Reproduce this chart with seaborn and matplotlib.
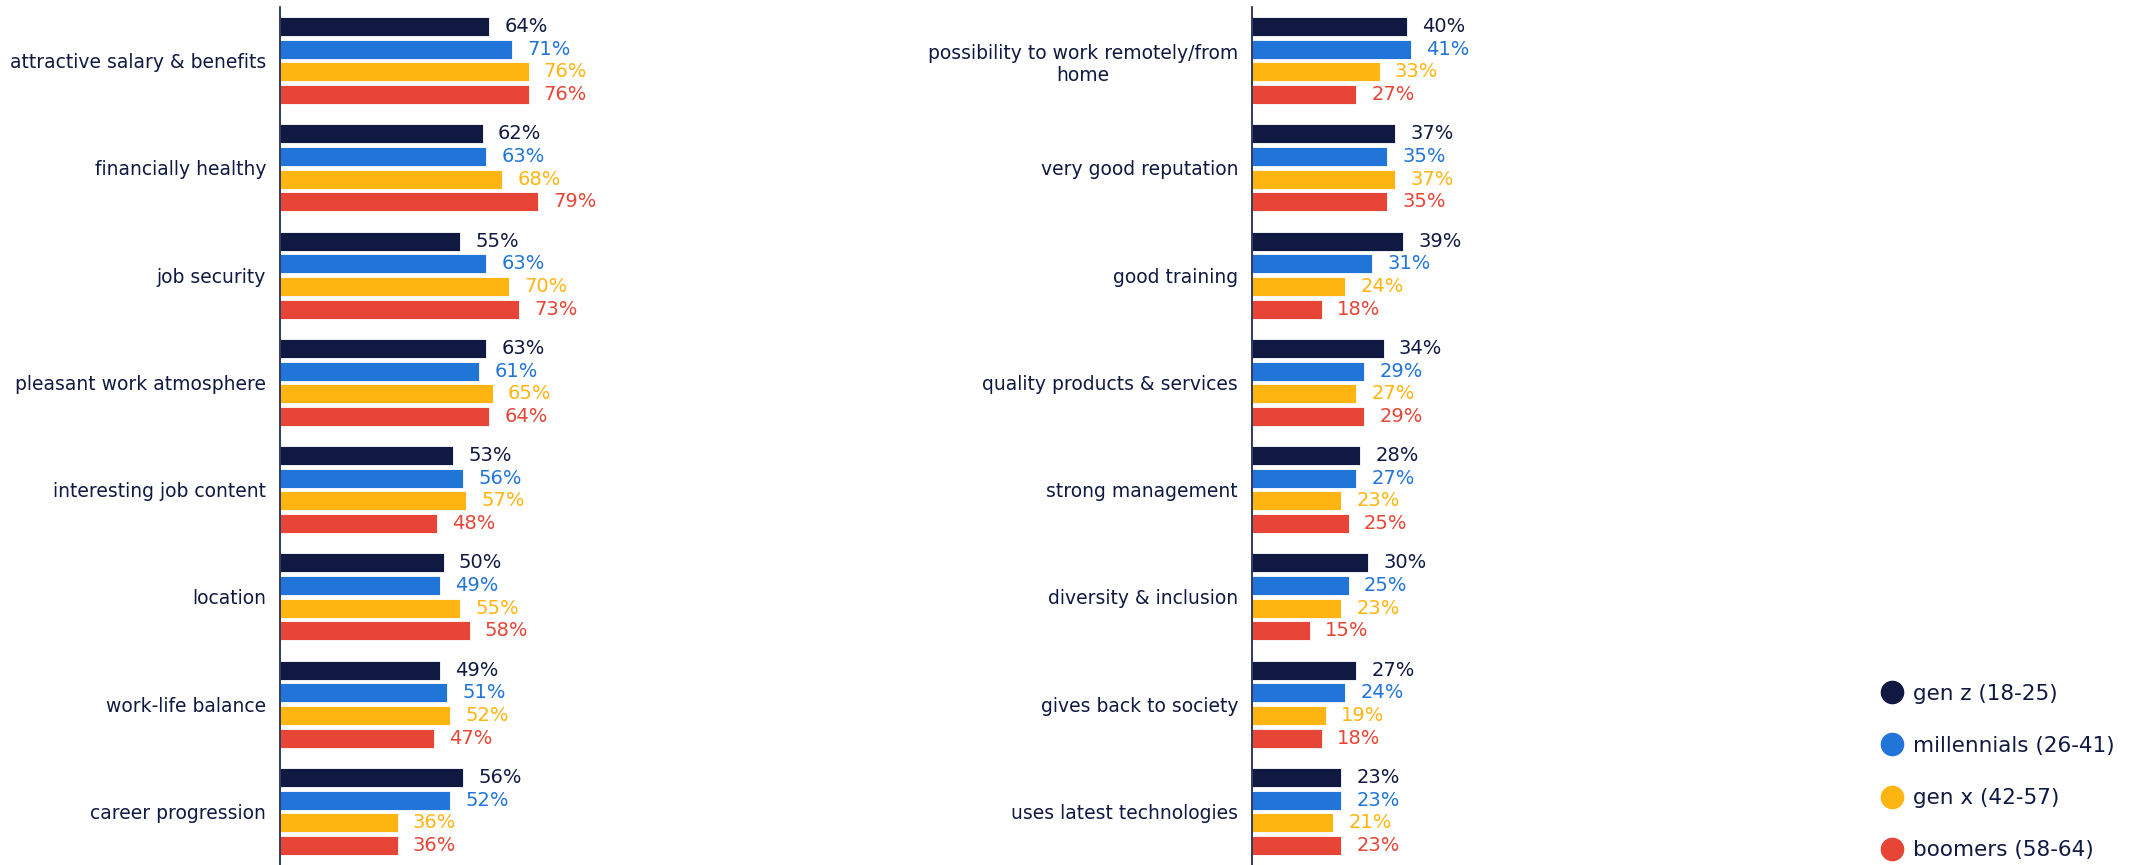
import matplotlib
matplotlib.use("Agg")
import matplotlib.pyplot as plt
import seaborn as sns
import pandas as pd
from matplotlib.lines import Line2D

groups = ["gen z (18-25)", "millennials (26-41)", "gen x (42-57)", "boomers (58-64)"]
colors = ["#0f1941", "#2175d9", "#ffb511", "#e74536"]

left_categories = ["attractive salary & benefits", "financially healthy", "job security",
                   "pleasant work atmosphere", "interesting job content", "location",
                   "work-life balance", "career progression"]
left_genz = [64, 62, 55, 63, 53, 50, 49, 56]
left_mill = [71, 63, 63, 61, 56, 49, 51, 52]
left_genx = [76, 68, 70, 65, 57, 55, 52, 36]
left_boom = [76, 79, 73, 64, 48, 58, 47, 36]

right_categories = ["possibility to work remotely/from\nhome", "very good reputation",
                    "good training", "quality products & services", "strong management",
                    "diversity & inclusion", "gives back to society", "uses latest technologies"]
right_genz = [40, 37, 39, 34, 28, 30, 27, 23]
right_mill = [41, 35, 31, 29, 27, 25, 24, 23]
right_genx = [33, 37, 24, 27, 23, 23, 19, 21]
right_boom = [27, 35, 18, 29, 25, 15, 18, 23]


def make_df(cats, series):
    rows = []
    for g, vals in zip(groups, series):
        for c, v in zip(cats, vals):
            rows.append({"category": c, "group": g, "value": v})
    return pd.DataFrame(rows)


sns.set_theme(style="white")
plt.rcParams["font.family"] = ["DejaVu Sans"]
navy = "#0f1941"

fig = plt.figure(figsize=(21.31, 8.65), dpi=100)
H = 865.0
W = 2131.0
ax_top = 7 / H
ax_left = fig.add_axes([280 / W, 0, 327 / W, 1 - ax_top])
ax_right = fig.add_axes([1252 / W, 0, 387 / W, 1 - ax_top])

for ax, cats, series in [
    (ax_left, left_categories, [left_genz, left_mill, left_genx, left_boom]),
    (ax_right, right_categories, [right_genz, right_mill, right_genx, right_boom]),
]:
    df = make_df(cats, series)
    sns.barplot(data=df, y="category", x="value", hue="group", hue_order=groups,
                order=cats, orient="h", palette=colors, width=0.845, gap=0.16,
                ax=ax, legend=False, edgecolor="white", linewidth=0.6, saturation=1)
    for cont, col in zip(ax.containers, colors):
        ax.bar_label(cont, fmt="%d%%", padding=11, color=col, fontsize=14)
    ax.set_xlim(0, 100)
    ax.set_ylim(7.5, -0.5)
    ax.set_xlabel("")
    ax.set_ylabel("")
    ax.set_xticks([])
    for s in ["top", "right", "bottom"]:
        ax.spines[s].set_visible(False)
    ax.spines["left"].set_color(navy)
    ax.spines["left"].set_linewidth(1.2)
    ax.tick_params(axis="y", length=0, pad=10, labelsize=13.5, labelcolor=navy)
    for t in ax.get_yticklabels():
        t.set_multialignment("center")

handles = [Line2D([], [], marker="o", linestyle="", markersize=16, color=c) for c in colors]
fig.legend(handles, groups, loc="upper left", bbox_to_anchor=(1870 / W, 1 - 675 / H),
           frameon=False, fontsize=15.5, labelcolor=navy, handletextpad=0.4,
           labelspacing=1.5, handlelength=1.2, borderaxespad=0)

fig.savefig("out.png", dpi=100)
